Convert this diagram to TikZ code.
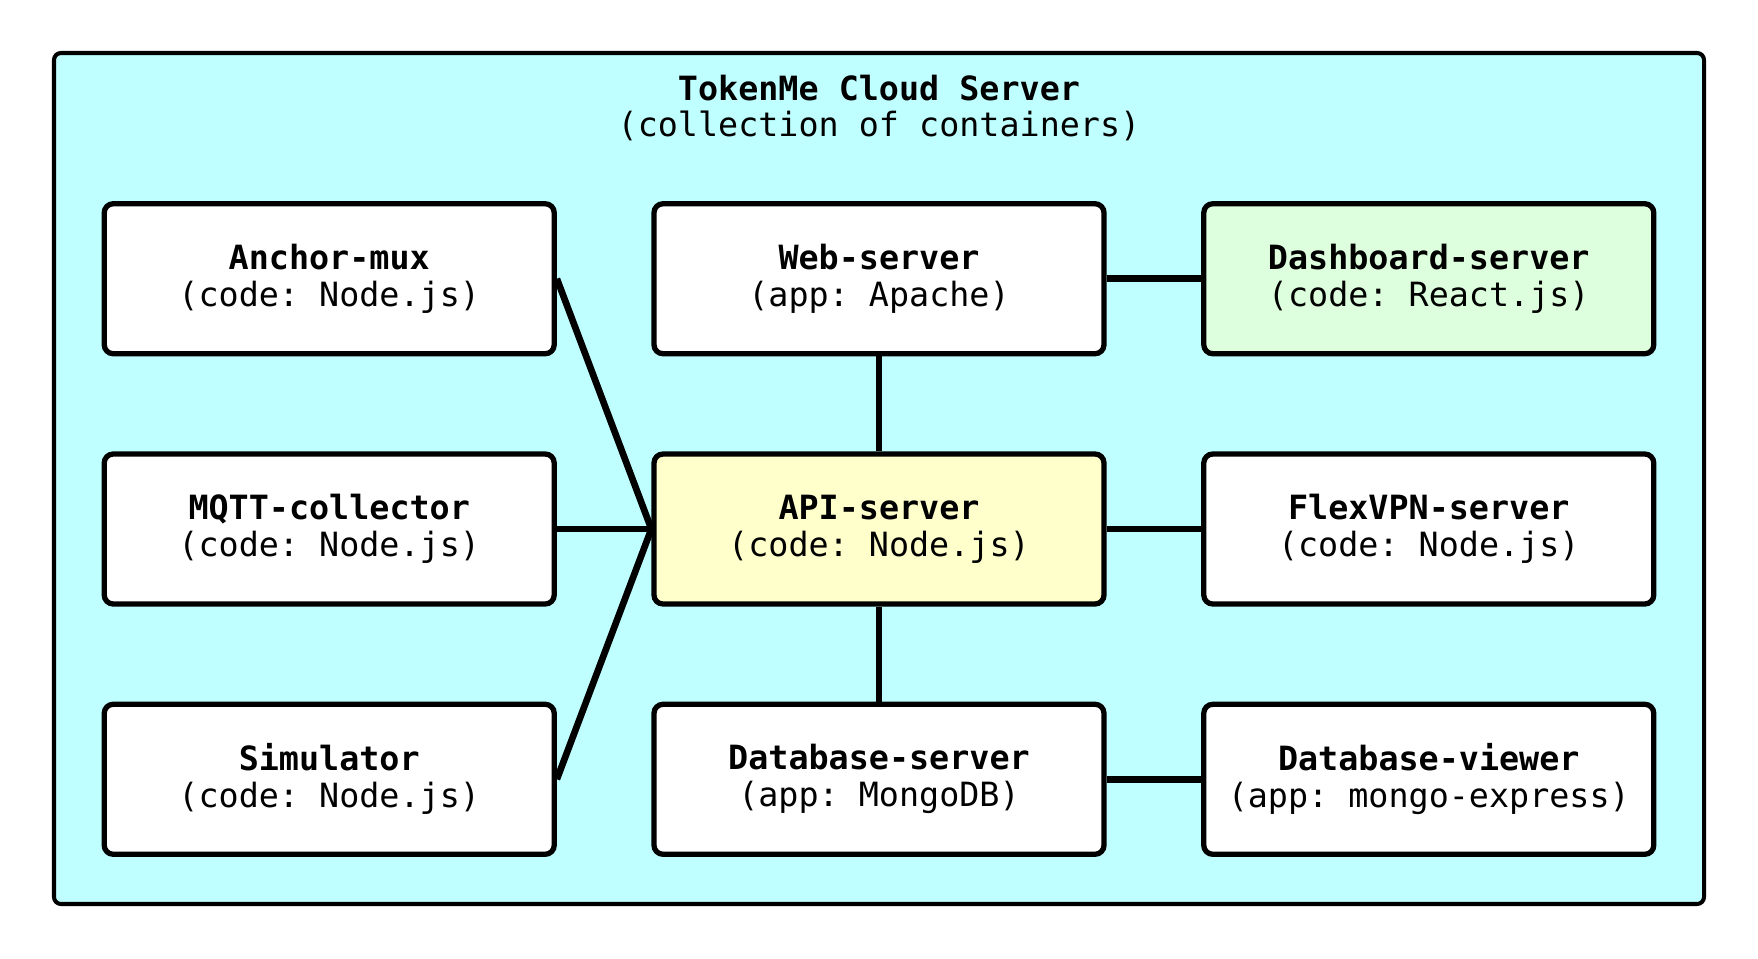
\documentclass[tikz,border=0pt]{standalone}
\usepackage{fontspec}
\setmonofont{DejaVu Sans Mono}
\usetikzlibrary{positioning}
\definecolor{cloudcyan}{HTML}{C0FFFF}
\definecolor{apiyellow}{HTML}{FFFFCC}
\definecolor{dashgreen}{HTML}{DDFFDD}
\begin{document}
\begin{tikzpicture}[
  container/.style={draw, line width=3pt, rounded corners=0.18cm, fill=white,
    minimum width=9cm, minimum height=3cm, align=center,
    font=\fontsize{19}{21}\selectfont\ttfamily},
  link/.style={line width=3.8pt},
  node distance=1.9cm and 1.89cm]
\useasboundingbox (0,0) rectangle (35.16,-19.16);
\draw[line width=2.3pt, fill=cloudcyan, rounded corners=0.14cm] (1.08,-1.06) rectangle (34.08,-18.08);
\node[align=center, font=\fontsize{19}{21}\selectfont\ttfamily] (title) at (17.58,-2.16)
  {\textbf{TokenMe Cloud Server}\\(collection of containers)};

\node[container, fill=apiyellow] (api) at (17.58,-10.58) {\textbf{API-server}\\(code: Node.js)};
\node[container, above=of api] (web) {\textbf{Web-server}\\(app: Apache)};
\node[container, below=of api] (db) {\textbf{Database-server}\\(app: MongoDB)};
\node[container, left=of api] (mqtt) {\textbf{MQTT-collector}\\(code: Node.js)};
\node[container, left=of web] (anchor) {\textbf{Anchor-mux}\\(code: Node.js)};
\node[container, left=of db] (sim) {\textbf{Simulator}\\(code: Node.js)};
\node[container, right=of web, fill=dashgreen] (dash) {\textbf{Dashboard-server}\\(code: React.js)};
\node[container, right=of api] (vpn) {\textbf{FlexVPN-server}\\(code: Node.js)};
\node[container, right=of db] (viewer) {\textbf{Database-viewer}\\(app: mongo-express)};

\draw[link] (anchor.east) -- (api.west);
\draw[link] (mqtt.east) -- (api.west);
\draw[link] (sim.east) -- (api.west);
\draw[link] (web.south) -- (api.north);
\draw[link] (api.south) -- (db.north);
\draw[link] (web.east) -- (dash.west);
\draw[link] (api.east) -- (vpn.west);
\draw[link] (db.east) -- (viewer.west);
\end{tikzpicture}
\end{document}
